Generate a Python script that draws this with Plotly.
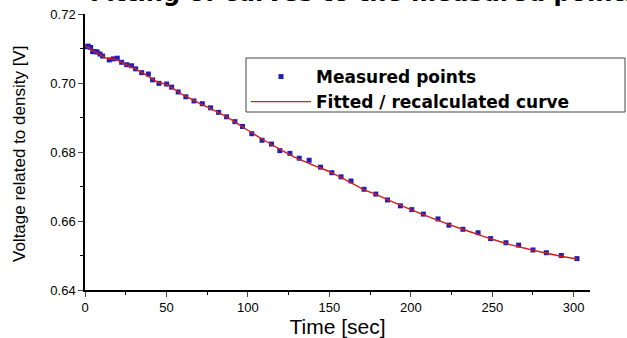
import plotly.graph_objects as go

# Measured data (time in sec, voltage in V)
time_s = [0.6, 2.0, 3.5, 4.7, 6.1, 7.5, 9.2, 10.8, 14.9, 17.4, 19.8, 22.5, 25.6, 28.6,
          31.1, 34.8, 38.9, 41.5, 45.4, 50.1, 53.2, 57.2, 61.9, 66.9, 72.0, 77.1, 82.0,
          86.9, 92.0, 96.7, 102.4, 108.7, 114.5, 119.6, 125.8, 131.5, 137.6, 144.6, 151.5,
          157.2, 163.3, 171.3, 178.5, 185.7, 193.6, 200.6, 207.7, 216.7, 223.4, 232.0,
          241.3, 249.0, 258.4, 266.2, 275.0, 283.2, 292.4, 302.0]
voltage = [0.7105, 0.7107, 0.7103, 0.7091, 0.7091, 0.7090, 0.7084, 0.7078, 0.7067, 0.7070,
           0.7072, 0.7060, 0.7053, 0.7050, 0.7041, 0.7030, 0.7026, 0.7009, 0.6999, 0.6997,
           0.6988, 0.6974, 0.6960, 0.6948, 0.6940, 0.6928, 0.6915, 0.6902, 0.6888, 0.6874,
           0.6853, 0.6834, 0.6823, 0.6804, 0.6796, 0.6782, 0.6776, 0.6756, 0.6740, 0.6728,
           0.6716, 0.6692, 0.6678, 0.6661, 0.6644, 0.6633, 0.6620, 0.6606, 0.6588, 0.6576,
           0.6566, 0.6549, 0.6537, 0.6530, 0.6516, 0.6508, 0.6500, 0.6491]

# Fitted / recalculated curve
fit_time = [0.0, 2.0, 4.0, 6.0, 8.0, 10.0, 13.0, 16.0, 19.0, 22.0, 26.0, 30.0, 35.0, 40.0,
            45.0, 50.0, 60.0, 70.0, 80.0, 90.0, 100.0, 110.0, 120.0, 130.0, 140.0, 150.0,
            160.0, 170.0, 180.0, 190.0, 200.0, 210.0, 220.0, 230.0, 240.0, 250.0, 260.0,
            270.0, 280.0, 290.0, 302.0]
fit_volt = [0.7106, 0.7104, 0.7096, 0.7091, 0.7087, 0.7080, 0.7072, 0.7070, 0.7068, 0.7061,
            0.7052, 0.7043, 0.7030, 0.7016, 0.7002, 0.6996, 0.6966, 0.6942, 0.6919, 0.6893,
            0.6863, 0.6834, 0.6807, 0.6782, 0.6762, 0.6743, 0.6719, 0.6694, 0.6674, 0.6653,
            0.6633, 0.6614, 0.6596, 0.6579, 0.6563, 0.6547, 0.6533, 0.6521, 0.6510, 0.6500,
            0.6490]

x_ticks = [0, 50, 100, 150, 200, 250, 300]
y_ticks = [0.64, 0.66, 0.68, 0.70, 0.72]
y_tick_labels = ["0.64", "0.66", "0.68", "0.70", "0.72"]

FONT = "Arial, 'Liberation Sans', sans-serif"
BOLD_FONT = "'DejaVu Sans', sans-serif"

L, R, T, B = 85, 37, 14, 48
W, H = 627, 338
PW, PH = W - L - R, H - T - B


def px_x(p):
    return (p - L) / PW


def px_y(p):
    return (H - B - p) / PH


fig = go.Figure()
fig.add_trace(go.Scatter(
    x=time_s, y=voltage, mode="markers", name="Measured points",
    marker=dict(symbol="square", size=5, color="#1f1fb4", line=dict(width=0)),
))
fig.add_trace(go.Scatter(
    x=fit_time, y=fit_volt, mode="lines", name="Fitted / recalculated curve",
    line=dict(color="#d41f1f", width=1.4, shape="spline", smoothing=0.6),
))

fig.update_layout(
    width=W, height=H,
    margin=dict(l=L, r=R, t=T, b=B),
    paper_bgcolor="white", plot_bgcolor="white",
    font=dict(family=FONT, color="black"),
    showlegend=True,
    legend=dict(
        x=px_x(246), y=px_y(59), xanchor="left", yanchor="top",
        bgcolor="rgba(0,0,0,0)", borderwidth=0,
        font=dict(family=BOLD_FONT, size=17, color="black", weight="bold"),
        tracegroupgap=0, itemwidth=60,
    ),
    shapes=[dict(
        type="rect", xref="paper", yref="paper",
        x0=px_x(246), x1=px_x(625), y0=px_y(112), y1=px_y(58),
        line=dict(color="#444444", width=1), fillcolor="white", layer="above",
    )],
    annotations=[
        dict(
            text="<b>Fitting of curves to the measured points</b>",
            xref="paper", yref="paper", x=px_x(88), y=1,
            xanchor="left", yanchor="bottom", yshift=5, showarrow=False,
            font=dict(family=BOLD_FONT, size=24, color="black"),
        ),
        dict(
            text="Voltage related to density [V]",
            xref="paper", yref="paper", x=px_x(19), y=px_y(154),
            xanchor="center", yanchor="middle", textangle=-90, showarrow=False,
            font=dict(family=FONT, size=17, color="black"),
        ),
    ],
)

fig.update_xaxes(
    range=[0, 310], tickvals=x_ticks, ticks="outside", ticklen=5, tickwidth=1.2,
    showline=True, linecolor="black", linewidth=1.5, showgrid=False, zeroline=False,
    tickfont=dict(size=13, family=FONT), automargin=False,
    minor=dict(tickvals=[25, 75, 125, 175, 225, 275], ticks="outside", ticklen=3, tickcolor="black"),
    title=dict(text="Time [sec]", font=dict(size=21, family=FONT), standoff=4),
)
fig.update_yaxes(
    range=[0.64, 0.72], tickvals=y_ticks, ticktext=y_tick_labels, ticks="outside",
    ticklen=5, tickwidth=1.2, automargin=False,
    showline=True, linecolor="black", linewidth=1.5, showgrid=False, zeroline=False,
    tickfont=dict(size=13, family=FONT),
    minor=dict(tickvals=[0.65, 0.67, 0.69, 0.71], ticks="outside", ticklen=3, tickcolor="black"),
)

fig.write_html("out.html", config={"displayModeBar": False},
               post_script="document.body.style.margin='0';")
